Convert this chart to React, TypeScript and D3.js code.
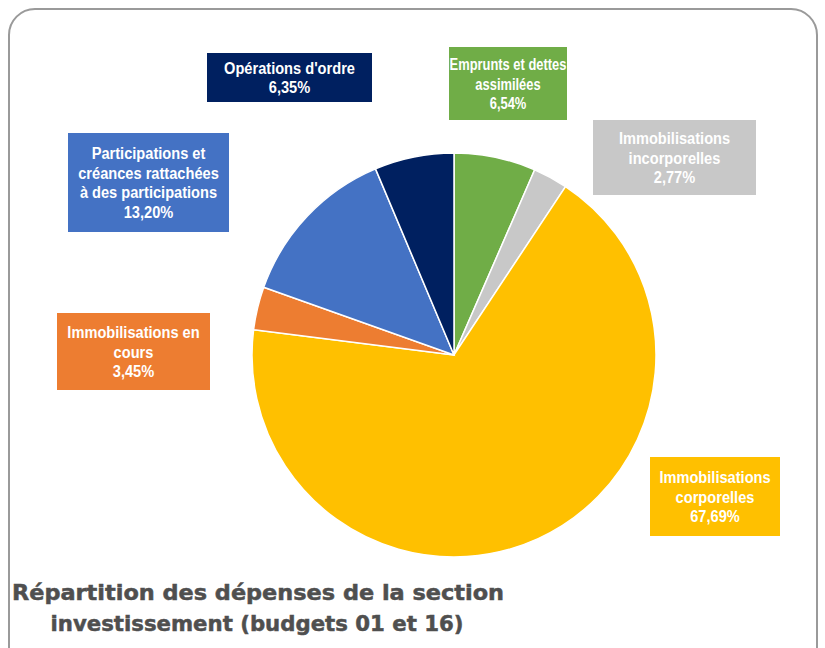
import React from "react";
import * as d3 from "d3";

const categories = [
  "Emprunts et dettes assimilées",
  "Immobilisations incorporelles",
  "Immobilisations corporelles",
  "Immobilisations en cours",
  "Participations et créances rattachées à des participations",
  "Opérations d'ordre",
];
const values = [6.54, 2.77, 67.69, 3.45, 13.2, 6.35];
const valueLabels = ["6,54%", "2,77%", "67,69%", "3,45%", "13,20%", "6,35%"];
const labelLines = [
  ["Emprunts et dettes", "assimilées"],
  ["Immobilisations", "incorporelles"],
  ["Immobilisations", "corporelles"],
  ["Immobilisations en", "cours"],
  ["Participations et", "créances rattachées", "à des participations"],
  ["Opérations d'ordre"],
];
const colors = ["#70AD47", "#C8C8C8", "#FFC000", "#ED7D31", "#4472C4", "#002060"];
const titleLines = ["Répartition des dépenses de la section", "investissement (budgets 01 et 16)"];

// label box layout [x, y, w, h] and horizontal condensing
const boxes = [
  [449, 47, 118, 73],
  [593, 120, 163, 75],
  [650, 457, 130, 79],
  [57, 313, 153, 77],
  [68, 133, 161, 99],
  [207, 53, 165, 49],
];
const condense = [0.76, 0.86, 0.86, 0.86, 0.86, 0.86];

export default function App() {
  const cx = 454, cy = 355, r = 202;
  const pie = d3.pie<number>().sort(null).value((d) => d)(values);
  const arc = d3.arc<d3.PieArcDatum<number>>().innerRadius(0).outerRadius(r);
  return (
    <svg width={825} height={648} style={{ position: "absolute", left: 0, top: 0, background: "#fff" }}>
      <rect x={9} y={9} width={808} height={680} rx={26} ry={26} fill="#fff" stroke="#9a9a9a" strokeWidth={2} />
      <g transform={`translate(${cx},${cy})`}>
        {pie.map((p, i) => (
          <path key={i} d={arc(p) || ""} fill={colors[i]} stroke="#fff" strokeWidth={1.5} />
        ))}
      </g>
      {boxes.map((b, i) => {
        const lines = [...labelLines[i], valueLabels[i]];
        const lh = 19.5;
        const y0 = b[1] + b[3] / 2 - ((lines.length - 1) * lh) / 2;
        return (
          <g key={i}>
            <rect x={b[0]} y={b[1]} width={b[2]} height={b[3]} fill={colors[i]} />
            <text
              transform={`translate(${b[0] + b[2] / 2},0) scale(${condense[i]},1)`}
              textAnchor="middle"
              fill="#fff"
              fontFamily="'Liberation Sans', Arial, sans-serif"
              fontWeight="bold"
              fontSize={17}
            >
              {lines.map((l, j) => (
                <tspan key={j} x={0} y={y0 + j * lh} dy="0.36em">
                  {l}
                </tspan>
              ))}
            </text>
          </g>
        );
      })}
      <text fontFamily="'DejaVu Sans', Verdana, sans-serif" fontWeight="bold" fontSize={21} fill="#4f4f4f" stroke="#4f4f4f" strokeWidth={0.5} textAnchor="middle">
        <tspan x={258} y={600} textLength={492} lengthAdjust="spacingAndGlyphs">{titleLines[0]}</tspan>
        <tspan x={257} y={631} textLength={413} lengthAdjust="spacingAndGlyphs">{titleLines[1]}</tspan>
      </text>
    </svg>
  );
}
